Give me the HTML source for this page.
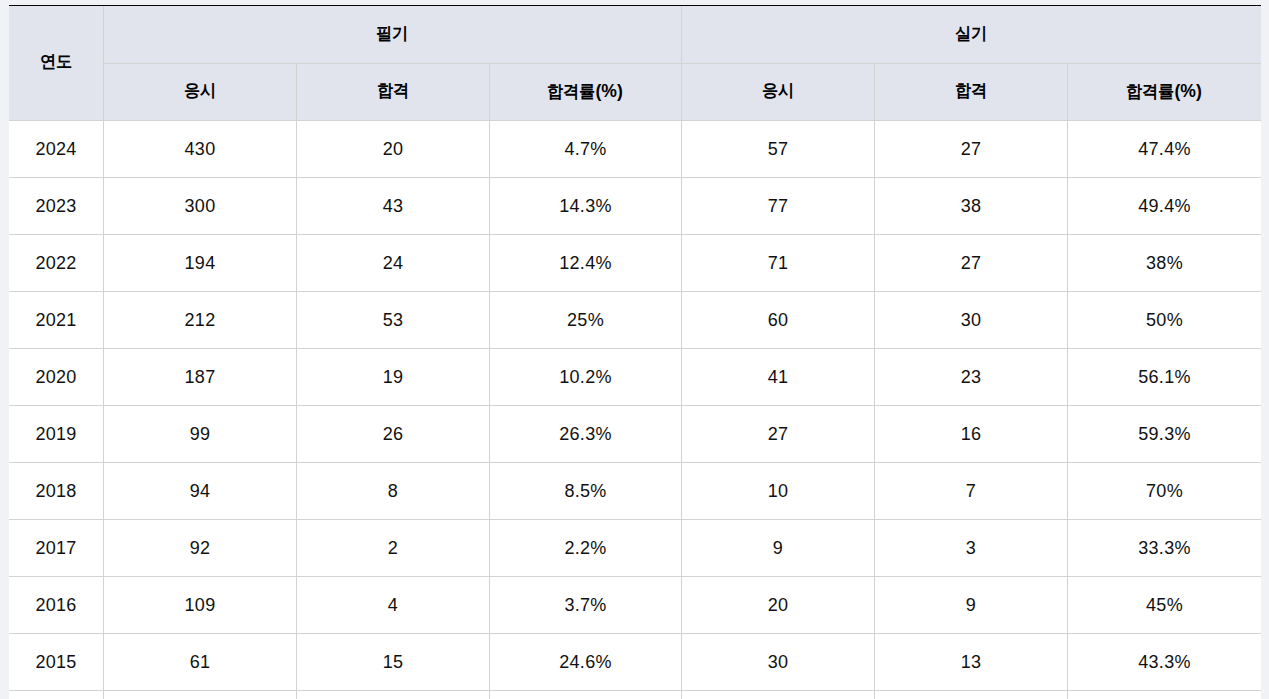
<!DOCTYPE html><html><head><meta charset="utf-8"><style>
html,body{margin:0;padding:0;width:1269px;height:699px;overflow:hidden;background:#f1f2f6;font-family:"Liberation Sans",sans-serif;color:#111;}
.a{position:absolute;}
.t{position:absolute;display:flex;align-items:center;justify-content:center;white-space:nowrap;}
.hd{font-weight:bold;font-size:17px;color:#000;}
.bd{font-size:18px;letter-spacing:0.3px;}
.pc{font-size:18.5px;position:relative;top:0.5px;}
.hd span.k{display:inline-block;transform:scaleX(0.95);}
</style></head><body>
<div class="a" style="left:9px;top:6px;width:1252px;height:114px;background:#e1e4ed"></div>
<div class="a" style="left:9px;top:121px;width:1252px;height:578px;background:#fff"></div>
<div class="a" style="left:9px;top:5px;width:1252px;height:1px;background:#000"></div>

<div class="a" style="left:103px;top:63px;width:1158px;height:1px;background:#d3d3d3"></div>
<div class="a" style="left:9px;top:120px;width:1252px;height:1px;background:#d3d3d3"></div>
<div class="a" style="left:9px;top:177px;width:1252px;height:1px;background:#d3d3d3"></div>
<div class="a" style="left:9px;top:234px;width:1252px;height:1px;background:#d3d3d3"></div>
<div class="a" style="left:9px;top:291px;width:1252px;height:1px;background:#d3d3d3"></div>
<div class="a" style="left:9px;top:348px;width:1252px;height:1px;background:#d3d3d3"></div>
<div class="a" style="left:9px;top:405px;width:1252px;height:1px;background:#d3d3d3"></div>
<div class="a" style="left:9px;top:462px;width:1252px;height:1px;background:#d3d3d3"></div>
<div class="a" style="left:9px;top:519px;width:1252px;height:1px;background:#d3d3d3"></div>
<div class="a" style="left:9px;top:576px;width:1252px;height:1px;background:#d3d3d3"></div>
<div class="a" style="left:9px;top:633px;width:1252px;height:1px;background:#d3d3d3"></div>
<div class="a" style="left:9px;top:690px;width:1252px;height:1px;background:#d3d3d3"></div>
<div class="a" style="left:103px;top:6px;width:1px;height:693px;background:#d3d3d3"></div>
<div class="a" style="left:681px;top:6px;width:1px;height:693px;background:#d3d3d3"></div>
<div class="a" style="left:296px;top:64px;width:1px;height:635px;background:#d3d3d3"></div>
<div class="a" style="left:489px;top:64px;width:1px;height:635px;background:#d3d3d3"></div>
<div class="a" style="left:874px;top:64px;width:1px;height:635px;background:#d3d3d3"></div>
<div class="a" style="left:1067px;top:64px;width:1px;height:635px;background:#d3d3d3"></div>
<div class="t hd" style="left:9px;top:4.5px;width:94px;height:114px"><span class="k">연도</span></div>
<div class="t hd" style="left:103px;top:4.5px;width:578px;height:57px"><span class="k">필기</span></div>
<div class="t hd" style="left:681px;top:4.5px;width:580px;height:57px"><span class="k">실기</span></div>
<div class="t hd" style="left:103px;top:62.5px;width:193px;height:56px"><span class="k">응시</span></div>
<div class="t hd" style="left:296px;top:62.5px;width:193px;height:56px"><span class="k">합격</span></div>
<div class="t hd" style="left:489px;top:63.0px;width:192px;height:56px"><span class="k">합격률<span class="pc">(%)</span></span></div>
<div class="t hd" style="left:681px;top:62.5px;width:193px;height:56px"><span class="k">응시</span></div>
<div class="t hd" style="left:874px;top:62.5px;width:193px;height:56px"><span class="k">합격</span></div>
<div class="t hd" style="left:1067px;top:63.0px;width:194px;height:56px"><span class="k">합격률<span class="pc">(%)</span></span></div>
<div class="t bd" style="left:9px;top:121px;width:94px;height:56px">2024</div>
<div class="t bd" style="left:103.5px;top:121px;width:193.0px;height:56px">430</div>
<div class="t bd" style="left:296.5px;top:121px;width:193.0px;height:56px">20</div>
<div class="t bd" style="left:489.5px;top:121px;width:192.0px;height:56px">4.7%</div>
<div class="t bd" style="left:681.5px;top:121px;width:193.0px;height:56px">57</div>
<div class="t bd" style="left:874.5px;top:121px;width:193.0px;height:56px">27</div>
<div class="t bd" style="left:1067.5px;top:121px;width:194.0px;height:56px">47.4%</div>
<div class="t bd" style="left:9px;top:178px;width:94px;height:56px">2023</div>
<div class="t bd" style="left:103.5px;top:178px;width:193.0px;height:56px">300</div>
<div class="t bd" style="left:296.5px;top:178px;width:193.0px;height:56px">43</div>
<div class="t bd" style="left:489.5px;top:178px;width:192.0px;height:56px">14.3%</div>
<div class="t bd" style="left:681.5px;top:178px;width:193.0px;height:56px">77</div>
<div class="t bd" style="left:874.5px;top:178px;width:193.0px;height:56px">38</div>
<div class="t bd" style="left:1067.5px;top:178px;width:194.0px;height:56px">49.4%</div>
<div class="t bd" style="left:9px;top:235px;width:94px;height:56px">2022</div>
<div class="t bd" style="left:103.5px;top:235px;width:193.0px;height:56px">194</div>
<div class="t bd" style="left:296.5px;top:235px;width:193.0px;height:56px">24</div>
<div class="t bd" style="left:489.5px;top:235px;width:192.0px;height:56px">12.4%</div>
<div class="t bd" style="left:681.5px;top:235px;width:193.0px;height:56px">71</div>
<div class="t bd" style="left:874.5px;top:235px;width:193.0px;height:56px">27</div>
<div class="t bd" style="left:1067.5px;top:235px;width:194.0px;height:56px">38%</div>
<div class="t bd" style="left:9px;top:292px;width:94px;height:56px">2021</div>
<div class="t bd" style="left:103.5px;top:292px;width:193.0px;height:56px">212</div>
<div class="t bd" style="left:296.5px;top:292px;width:193.0px;height:56px">53</div>
<div class="t bd" style="left:489.5px;top:292px;width:192.0px;height:56px">25%</div>
<div class="t bd" style="left:681.5px;top:292px;width:193.0px;height:56px">60</div>
<div class="t bd" style="left:874.5px;top:292px;width:193.0px;height:56px">30</div>
<div class="t bd" style="left:1067.5px;top:292px;width:194.0px;height:56px">50%</div>
<div class="t bd" style="left:9px;top:349px;width:94px;height:56px">2020</div>
<div class="t bd" style="left:103.5px;top:349px;width:193.0px;height:56px">187</div>
<div class="t bd" style="left:296.5px;top:349px;width:193.0px;height:56px">19</div>
<div class="t bd" style="left:489.5px;top:349px;width:192.0px;height:56px">10.2%</div>
<div class="t bd" style="left:681.5px;top:349px;width:193.0px;height:56px">41</div>
<div class="t bd" style="left:874.5px;top:349px;width:193.0px;height:56px">23</div>
<div class="t bd" style="left:1067.5px;top:349px;width:194.0px;height:56px">56.1%</div>
<div class="t bd" style="left:9px;top:406px;width:94px;height:56px">2019</div>
<div class="t bd" style="left:103.5px;top:406px;width:193.0px;height:56px">99</div>
<div class="t bd" style="left:296.5px;top:406px;width:193.0px;height:56px">26</div>
<div class="t bd" style="left:489.5px;top:406px;width:192.0px;height:56px">26.3%</div>
<div class="t bd" style="left:681.5px;top:406px;width:193.0px;height:56px">27</div>
<div class="t bd" style="left:874.5px;top:406px;width:193.0px;height:56px">16</div>
<div class="t bd" style="left:1067.5px;top:406px;width:194.0px;height:56px">59.3%</div>
<div class="t bd" style="left:9px;top:463px;width:94px;height:56px">2018</div>
<div class="t bd" style="left:103.5px;top:463px;width:193.0px;height:56px">94</div>
<div class="t bd" style="left:296.5px;top:463px;width:193.0px;height:56px">8</div>
<div class="t bd" style="left:489.5px;top:463px;width:192.0px;height:56px">8.5%</div>
<div class="t bd" style="left:681.5px;top:463px;width:193.0px;height:56px">10</div>
<div class="t bd" style="left:874.5px;top:463px;width:193.0px;height:56px">7</div>
<div class="t bd" style="left:1067.5px;top:463px;width:194.0px;height:56px">70%</div>
<div class="t bd" style="left:9px;top:520px;width:94px;height:56px">2017</div>
<div class="t bd" style="left:103.5px;top:520px;width:193.0px;height:56px">92</div>
<div class="t bd" style="left:296.5px;top:520px;width:193.0px;height:56px">2</div>
<div class="t bd" style="left:489.5px;top:520px;width:192.0px;height:56px">2.2%</div>
<div class="t bd" style="left:681.5px;top:520px;width:193.0px;height:56px">9</div>
<div class="t bd" style="left:874.5px;top:520px;width:193.0px;height:56px">3</div>
<div class="t bd" style="left:1067.5px;top:520px;width:194.0px;height:56px">33.3%</div>
<div class="t bd" style="left:9px;top:577px;width:94px;height:56px">2016</div>
<div class="t bd" style="left:103.5px;top:577px;width:193.0px;height:56px">109</div>
<div class="t bd" style="left:296.5px;top:577px;width:193.0px;height:56px">4</div>
<div class="t bd" style="left:489.5px;top:577px;width:192.0px;height:56px">3.7%</div>
<div class="t bd" style="left:681.5px;top:577px;width:193.0px;height:56px">20</div>
<div class="t bd" style="left:874.5px;top:577px;width:193.0px;height:56px">9</div>
<div class="t bd" style="left:1067.5px;top:577px;width:194.0px;height:56px">45%</div>
<div class="t bd" style="left:9px;top:634px;width:94px;height:56px">2015</div>
<div class="t bd" style="left:103.5px;top:634px;width:193.0px;height:56px">61</div>
<div class="t bd" style="left:296.5px;top:634px;width:193.0px;height:56px">15</div>
<div class="t bd" style="left:489.5px;top:634px;width:192.0px;height:56px">24.6%</div>
<div class="t bd" style="left:681.5px;top:634px;width:193.0px;height:56px">30</div>
<div class="t bd" style="left:874.5px;top:634px;width:193.0px;height:56px">13</div>
<div class="t bd" style="left:1067.5px;top:634px;width:194.0px;height:56px">43.3%</div>
</body></html>
